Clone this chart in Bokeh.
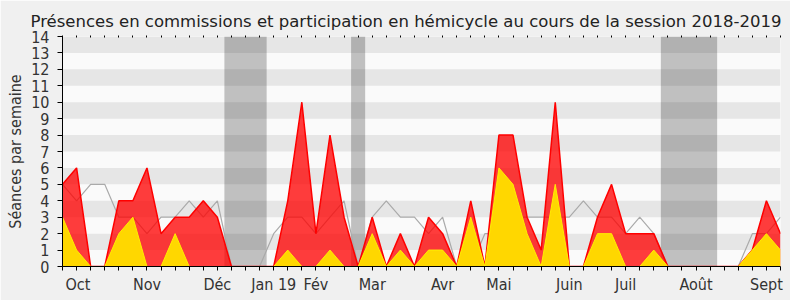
from bokeh.plotting import figure
from bokeh.models import FixedTicker, LinearAxis, Range1d, BoxAnnotation, ColumnDataSource
from bokeh.embed import file_html
from bokeh.resources import INLINE

# weekly data, session 2018-2019 (52 weeks)
weeks = list(range(52))
seances_total = [5, 6, 0, 0, 4, 4, 6, 2, 3, 3, 4, 3, 0, 0, 0, 0, 4, 10, 2, 8,
                 3, 0, 3, 0, 2, 0, 3, 2, 0, 4, 0, 8, 8, 3, 1, 10, 0, 0, 3, 5,
                 2, 2, 2, 0, 0, 0, 0, 0, 0, 1, 4, 2]
seances_commission = [3, 1, 0, 0, 2, 3, 0, 0, 2, 0, 0, 0, 0, 0, 0, 0, 1, 0, 0, 1,
                      0, 0, 2, 0, 1, 0, 1, 1, 0, 3, 0, 6, 5, 2, 0, 5, 0, 0, 2, 2,
                      0, 0, 1, 0, 0, 0, 0, 0, 0, 1, 2, 1]
mediane = [5, 4, 5, 5, 3, 3, 2, 3, 3, 4, 3, 4, 0, 0, 0, 2, 3, 3, 2, 3,
           4, 0, 3, 4, 3, 3, 2, 3, 0, 0, 2, 2, 3, 3, 3, 3, 3, 4, 3, 3,
           2, 3, 2, 0, 0, 0, 0, 0, 0, 2, 2, 3]

month_labels = ["Oct", "Nov", "Déc", "Jan 19", "Fév", "Mar", "Avr", "Mai",
                "Juin", "Juil", "Août", "Sept"]
month_pos = [1.1, 6, 11, 15, 18, 22, 27, 31, 36, 40, 45, 50]

vacances_debut = [11.5, 20.5, 42.5]
vacances_fin = [14.5, 21.5, 46.5]

y_max = 14

src = ColumnDataSource(dict(x=weeks, total=seances_total,
                            com=seances_commission, med=mediane,
                            zero=[0] * len(weeks)))

p = figure(width=790, height=300, output_backend="svg", toolbar_location=None,
           x_range=Range1d(0, len(weeks) - 1), y_range=Range1d(0, y_max),
           min_border_left=62, min_border_right=10, min_border_top=36,
           min_border_bottom=34)

p.background_fill_color = "#fafafa"
p.border_fill_color = "#f0f0f0"
p.outline_line_color = None
p.xgrid.visible = False
p.ygrid.visible = False

# vacation bands
for a, b in zip(vacances_debut, vacances_fin):
    p.add_layout(BoxAnnotation(left=a, right=b, fill_color="#c0c0c0",
                               fill_alpha=1.0, line_color=None, level="underlay"))
# horizontal stripes
for k in range(1, y_max, 2):
    p.add_layout(BoxAnnotation(bottom=k, top=k + 1, fill_color="black",
                               fill_alpha=0.08, line_color=None, level="underlay"))

p.line("x", "med", source=src, line_color="#aaaaaa", line_width=1.2)
p.varea(x="x", y1="zero", y2="total", source=src, fill_color="#ff0000",
        fill_alpha=0.76)
p.line("x", "total", source=src, line_color="#ff0000", line_width=1.5)
p.varea(x="x", y1="zero", y2="com", source=src, fill_color="#ffd700")
p.line("x", "com", source=src, line_color="#ffee00", line_width=1)

font = "DejaVu Sans Condensed"

p.title.text = "Présences en commissions et participation en hémicycle au cours de la session 2018-2019"
p.title.text_font = "DejaVu Sans"
p.title.text_font_size = "16.5px"
p.title.text_font_style = "normal"
p.title.text_color = "#222222"
p.title.align = "left"
p.title.offset = -32

xt = FixedTicker(ticks=month_pos, minor_ticks=weeks)
p.xaxis.ticker = xt
p.xaxis.major_label_overrides = {pos: lab for pos, lab in zip(month_pos, month_labels)}
p.xaxis.major_tick_line_color = None
p.xaxis.minor_tick_line_color = "black"
p.xaxis.minor_tick_out = 4
p.xaxis.minor_tick_in = 0
p.xaxis.axis_line_color = "black"
p.xaxis.major_label_text_font = font
p.xaxis.major_label_text_font_size = "16px"
p.xaxis.major_label_text_color = "#333333"
p.xaxis.major_label_standoff = 2

p.yaxis.ticker = FixedTicker(ticks=list(range(0, y_max + 1)))
p.yaxis.major_tick_out = 5
p.yaxis.major_tick_in = 0
p.yaxis.minor_tick_line_color = None
p.yaxis.axis_line_color = "black"
p.yaxis.major_label_text_font = font
p.yaxis.major_label_text_font_size = "16px"
p.yaxis.major_label_text_color = "#333333"
p.yaxis.major_label_standoff = 8
p.yaxis.axis_label = "Séances par semaine"
p.yaxis.axis_label_text_font = font
p.yaxis.axis_label_text_font_size = "16px"
p.yaxis.axis_label_text_font_style = "normal"
p.yaxis.axis_label_text_color = "#333333"
p.yaxis.axis_label_standoff = 3

top = LinearAxis(ticker=FixedTicker(ticks=[], minor_ticks=weeks),
                 axis_line_color=None, major_label_text_font_size="0px",
                 minor_tick_line_color="black", minor_tick_out=1, minor_tick_in=1)
p.add_layout(top, "above")

open("out.html", "w").write(file_html(p, INLINE))
